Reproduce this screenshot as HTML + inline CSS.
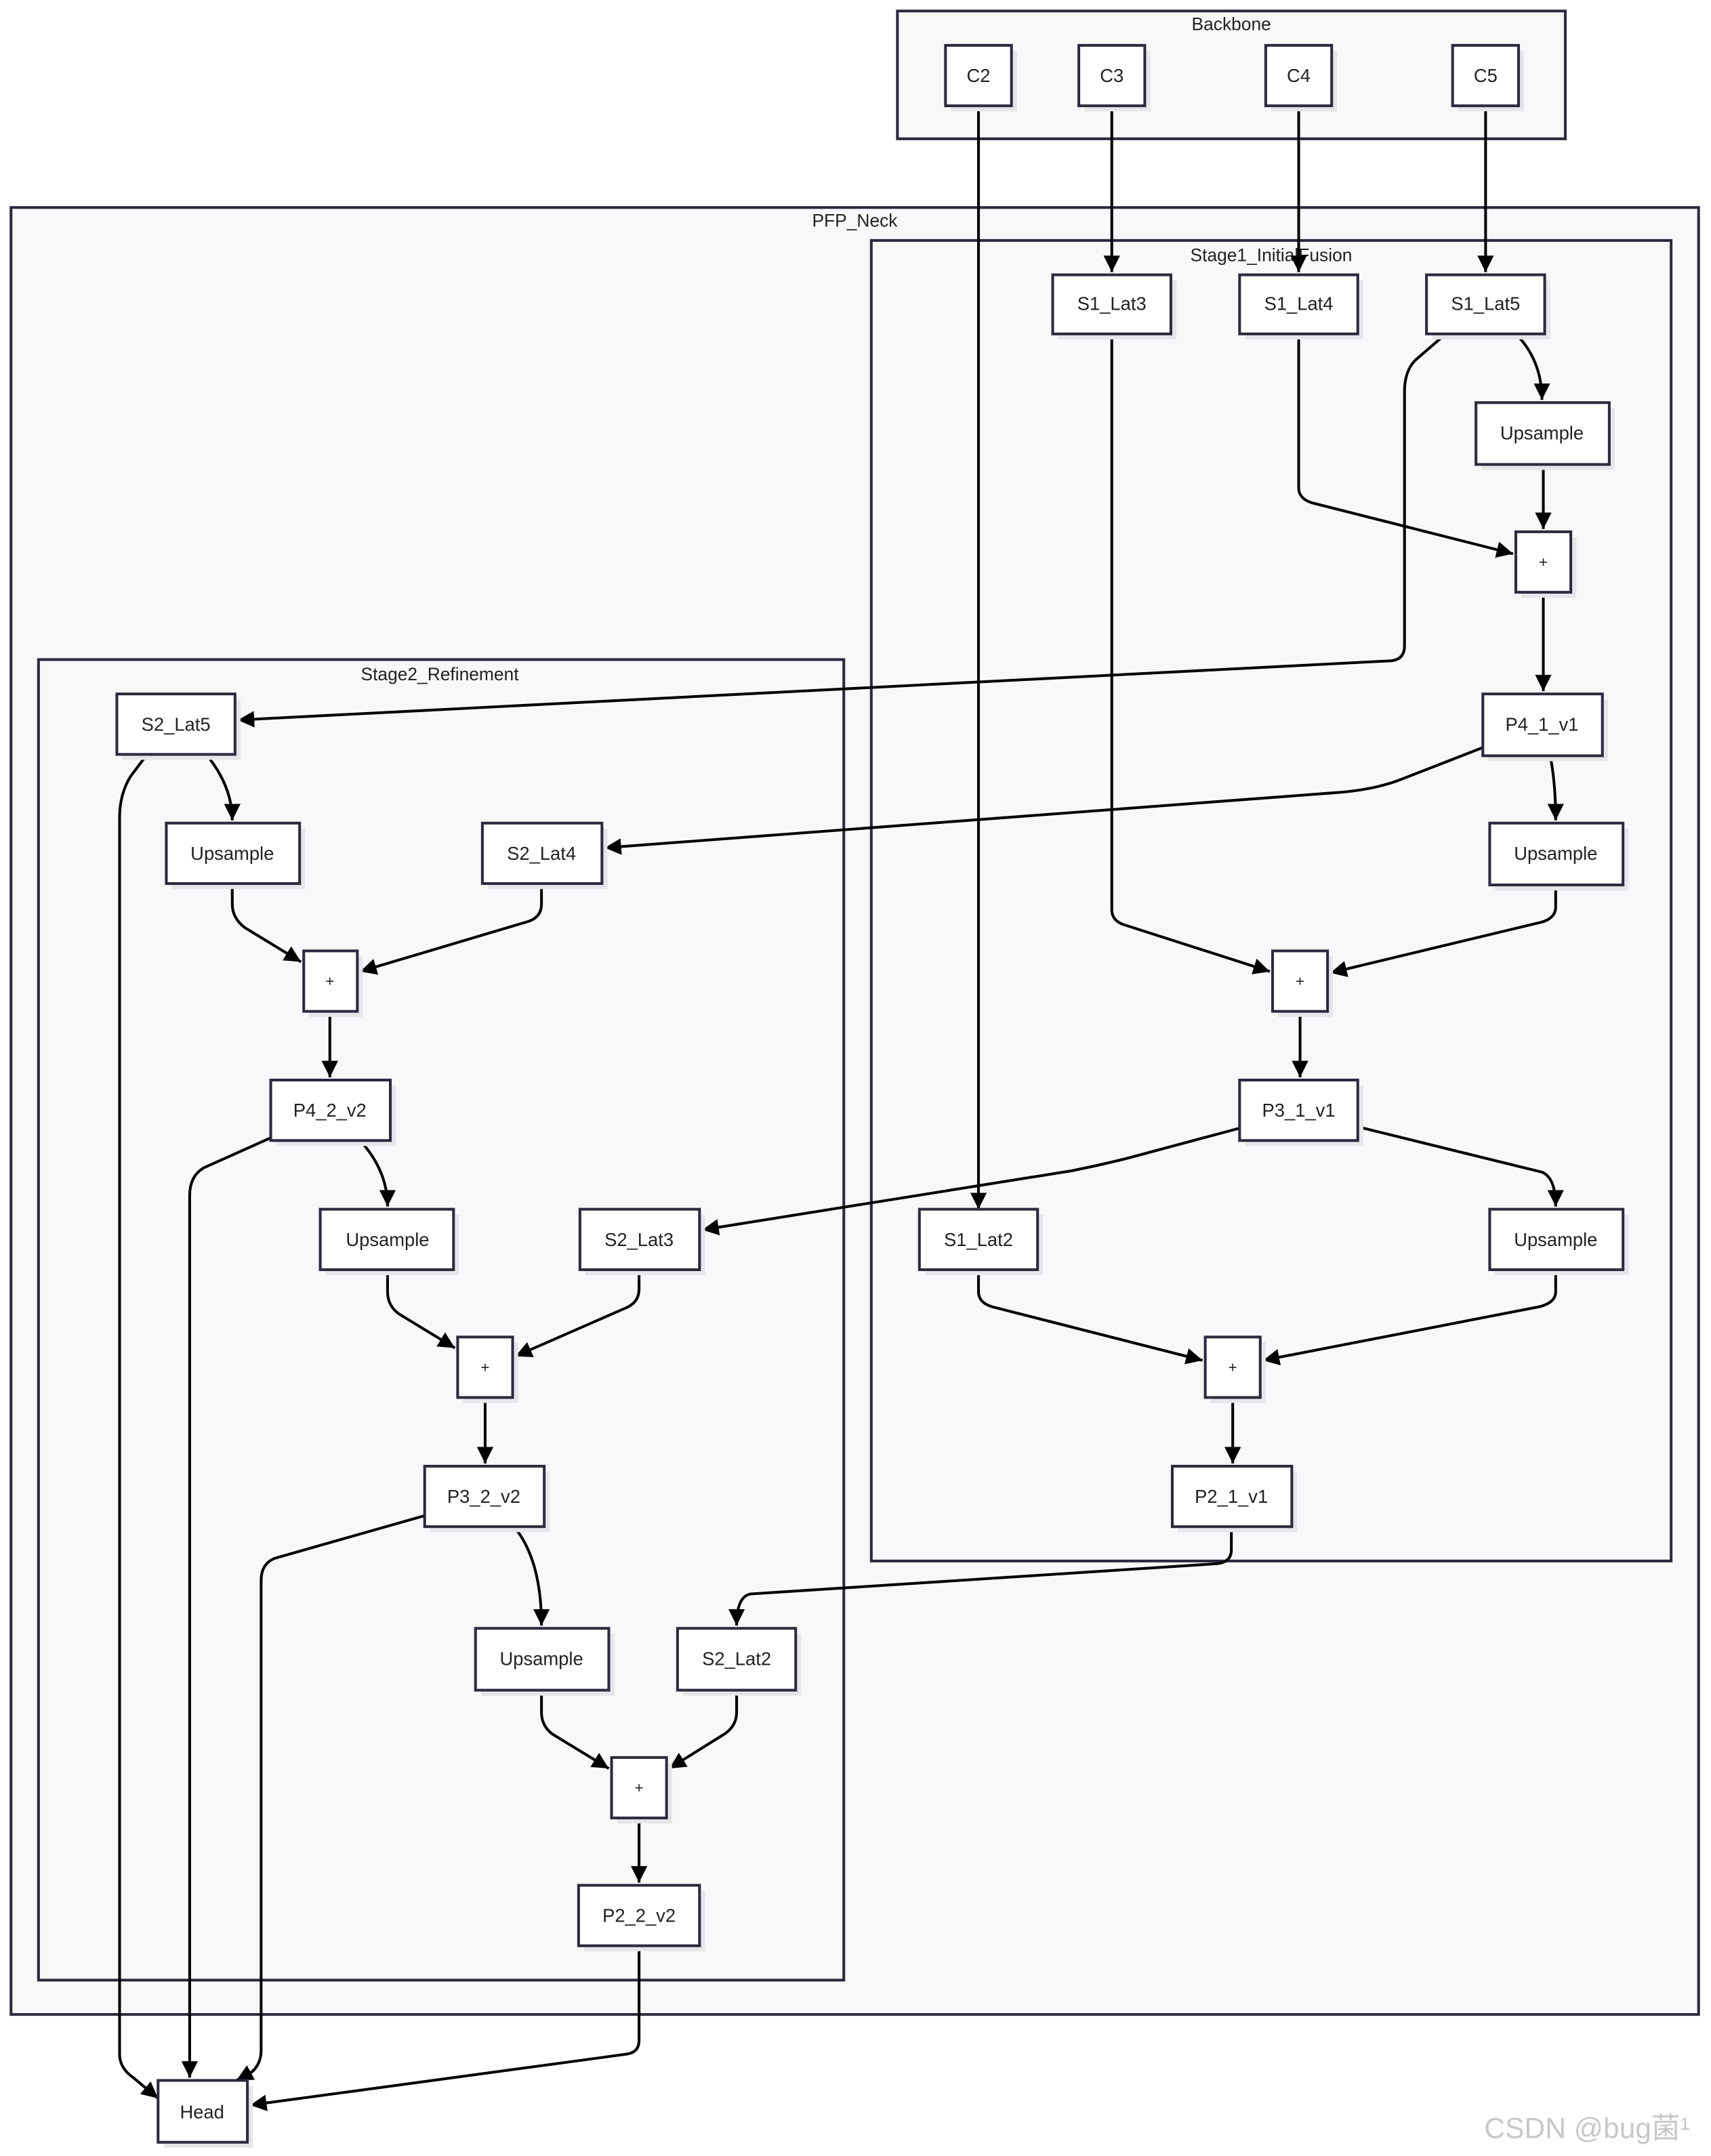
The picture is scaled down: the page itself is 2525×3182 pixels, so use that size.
<!DOCTYPE html>
<html><head><meta charset="utf-8"><style>
html,body{margin:0;padding:0;background:#fff;}
svg{display:block}
text{font-family:"Liberation Sans","DejaVu Sans",sans-serif;fill:#222;}
</style></head><body>
<svg width="2525" height="3182" viewBox="0 0 1245 1569" xmlns="http://www.w3.org/2000/svg">
<defs>
<marker id="a" markerUnits="userSpaceOnUse" markerWidth="12" markerHeight="12" refX="10" refY="5" orient="auto" viewBox="0 0 10 10"><path d="M0,0 L10,5 L0,10 z" fill="#000"/></marker>
</defs>
<g stroke="#2b2b3e" stroke-width="2" fill="#f8f8fa">
<rect x="653" y="8" width="486" height="93"/>
<rect x="8" y="151" width="1228" height="1315"/>
<rect x="634" y="175" width="582" height="961"/>
<rect x="28" y="480" width="586" height="961"/>
</g>
<g font-size="13" text-anchor="middle">
<text x="896" y="22">Backbone</text>
<text x="622" y="165">PFP_Neck</text>
<text x="925" y="190">Stage1_InitialFusion</text>
<text x="320" y="495">Stage2_Refinement</text>
</g>
<g fill="none" stroke="#000" stroke-width="2" marker-end="url(#a)">
<path d="M712,77 V880"/>
<path d="M809,77 V198"/>
<path d="M945,77 V198"/>
<path d="M1081,77 V198"/>
<path d="M1103,243 Q1122,262 1122,291"/>
<path d="M1052,243 L1030,262 Q1022,270 1022,285 V470 Q1022,481 1010,481 L173,524"/>
<path d="M1123,338 V385"/>
<path d="M945,243 V355 Q945,363 955,366 L1101,403"/>
<path d="M1123,431 V503"/>
<path d="M1128,550 Q1132,570 1132,597"/>
<path d="M1079,544 L1020,567 Q1000,575 970,577 L440,617"/>
<path d="M809,243 V662 Q809,670 818,673 L924,707"/>
<path d="M1132,644 V660 Q1132,668 1122,671 L968,708"/>
<path d="M946,736 V784"/>
<path d="M988,820 L1122,853 Q1132,857 1132,878"/>
<path d="M902,821 L820,843 Q800,848 780,852 L511,895"/>
<path d="M712,924 V940 Q712,948 722,951 L875,990"/>
<path d="M1132,924 V940 Q1132,948 1120,951 L919,990"/>
<path d="M897,1017 V1065"/>
<path d="M896,1111 V1128 Q896,1137 885,1138 L546,1160 Q536,1162 536,1183"/>
<path d="M150,549 Q169,572 169,597"/>
<path d="M107,549 L95,565 Q87,578 87,595 V1495 Q87,1505 97,1512 L115,1527"/>
<path d="M169,643 V658 Q169,668 178,675 L219,700"/>
<path d="M394,643 V658 Q394,668 383,671 L262,707"/>
<path d="M240,736 V784"/>
<path d="M262,830 Q282,852 282,878"/>
<path d="M197,828 L148,850 Q138,856 138,870 V1512"/>
<path d="M282,924 V940 Q282,950 290,956 L331,981"/>
<path d="M465,924 V938 Q465,948 455,952 L375,987"/>
<path d="M353,1017 V1065"/>
<path d="M374,1111 Q394,1135 394,1183"/>
<path d="M309,1103 L200,1134 Q190,1138 190,1150 V1492 Q190,1502 183,1508 L172,1514"/>
<path d="M394,1230 V1246 Q394,1256 402,1262 L443,1287"/>
<path d="M536,1230 V1246 Q536,1256 527,1262 L487,1287"/>
<path d="M465,1323 V1370"/>
<path d="M465,1416 V1485 Q465,1494 455,1495 L182,1532"/>
</g>
<g id="nodes">
<g fill="#e6e6ea">
<rect x="692" y="37" width="48" height="44"/><rect x="789" y="37" width="48" height="44"/><rect x="925" y="37" width="48" height="44"/><rect x="1061" y="37" width="48" height="44"/>
<rect x="770" y="204" width="86" height="43"/><rect x="906" y="204" width="86" height="43"/><rect x="1042" y="204" width="86" height="43"/>
<rect x="1078" y="297" width="97" height="45"/><rect x="1107" y="391" width="40" height="44"/><rect x="1083" y="509" width="87" height="45"/>
<rect x="1088" y="603" width="97" height="45"/><rect x="930" y="696" width="40" height="44"/><rect x="906" y="790" width="86" height="44"/>
<rect x="673" y="884" width="86" height="44"/><rect x="1088" y="884" width="97" height="44"/><rect x="881" y="977" width="40" height="44"/><rect x="857" y="1071" width="87" height="44"/>
<rect x="89" y="509" width="86" height="44"/><rect x="125" y="603" width="97" height="44"/><rect x="355" y="603" width="87" height="44"/><rect x="225" y="696" width="39" height="44"/>
<rect x="201" y="790" width="87" height="44"/><rect x="237" y="884" width="97" height="44"/><rect x="426" y="884" width="87" height="44"/><rect x="337" y="977" width="40" height="44"/>
<rect x="313" y="1071" width="87" height="44"/><rect x="350" y="1189" width="97" height="45"/><rect x="497" y="1189" width="86" height="45"/><rect x="449" y="1283" width="40" height="44"/>
<rect x="425" y="1376" width="88" height="44"/><rect x="119" y="1518" width="65" height="45"/>
</g>
<g fill="#fff" stroke="#2b2b3e" stroke-width="2">
<rect x="688" y="33" width="48" height="44"/><rect x="785" y="33" width="48" height="44"/><rect x="921" y="33" width="48" height="44"/><rect x="1057" y="33" width="48" height="44"/>
<rect x="766" y="200" width="86" height="43"/><rect x="902" y="200" width="86" height="43"/><rect x="1038" y="200" width="86" height="43"/>
<rect x="1074" y="293" width="97" height="45"/><rect x="1103" y="387" width="40" height="44"/><rect x="1079" y="505" width="87" height="45"/>
<rect x="1084" y="599" width="97" height="45"/><rect x="926" y="692" width="40" height="44"/><rect x="902" y="786" width="86" height="44"/>
<rect x="669" y="880" width="86" height="44"/><rect x="1084" y="880" width="97" height="44"/><rect x="877" y="973" width="40" height="44"/><rect x="853" y="1067" width="87" height="44"/>
<rect x="85" y="505" width="86" height="44"/><rect x="121" y="599" width="97" height="44"/><rect x="351" y="599" width="87" height="44"/><rect x="221" y="692" width="39" height="44"/>
<rect x="197" y="786" width="87" height="44"/><rect x="233" y="880" width="97" height="44"/><rect x="422" y="880" width="87" height="44"/><rect x="333" y="973" width="40" height="44"/>
<rect x="309" y="1067" width="87" height="44"/><rect x="346" y="1185" width="97" height="45"/><rect x="493" y="1185" width="86" height="45"/><rect x="445" y="1279" width="40" height="44"/>
<rect x="421" y="1372" width="88" height="44"/><rect x="115" y="1514" width="65" height="45"/>
</g>
<g font-size="13.5" text-anchor="middle" dominant-baseline="central">
<text x="712" y="55">C2</text><text x="809" y="55">C3</text><text x="945" y="55">C4</text><text x="1081" y="55">C5</text>
<text x="809" y="221">S1_Lat3</text><text x="945" y="221">S1_Lat4</text><text x="1081" y="221">S1_Lat5</text>
<text x="1122" y="315">Upsample</text><text x="1123" y="409" font-size="11">+</text><text x="1122" y="527">P4_1_v1</text>
<text x="1132" y="621">Upsample</text><text x="946" y="714" font-size="11">+</text><text x="945" y="808">P3_1_v1</text>
<text x="712" y="902">S1_Lat2</text><text x="1132" y="902">Upsample</text><text x="897" y="995" font-size="11">+</text><text x="896" y="1089">P2_1_v1</text>
<text x="128" y="527">S2_Lat5</text><text x="169" y="621">Upsample</text><text x="394" y="621">S2_Lat4</text><text x="240" y="714" font-size="11">+</text>
<text x="240" y="808">P4_2_v2</text><text x="282" y="902">Upsample</text><text x="465" y="902">S2_Lat3</text><text x="353" y="995" font-size="11">+</text>
<text x="352" y="1089">P3_2_v2</text><text x="394" y="1207">Upsample</text><text x="536" y="1207">S2_Lat2</text><text x="465" y="1301" font-size="11">+</text>
<text x="465" y="1394">P2_2_v2</text><text x="147" y="1537">Head</text>
</g>
</g>
<text x="1080" y="1556" font-size="21" style="fill:#c8c8c8;font-family:'Liberation Sans','Noto Sans CJK SC',sans-serif">CSDN @bug菌¹</text>
</svg>
</body></html>
